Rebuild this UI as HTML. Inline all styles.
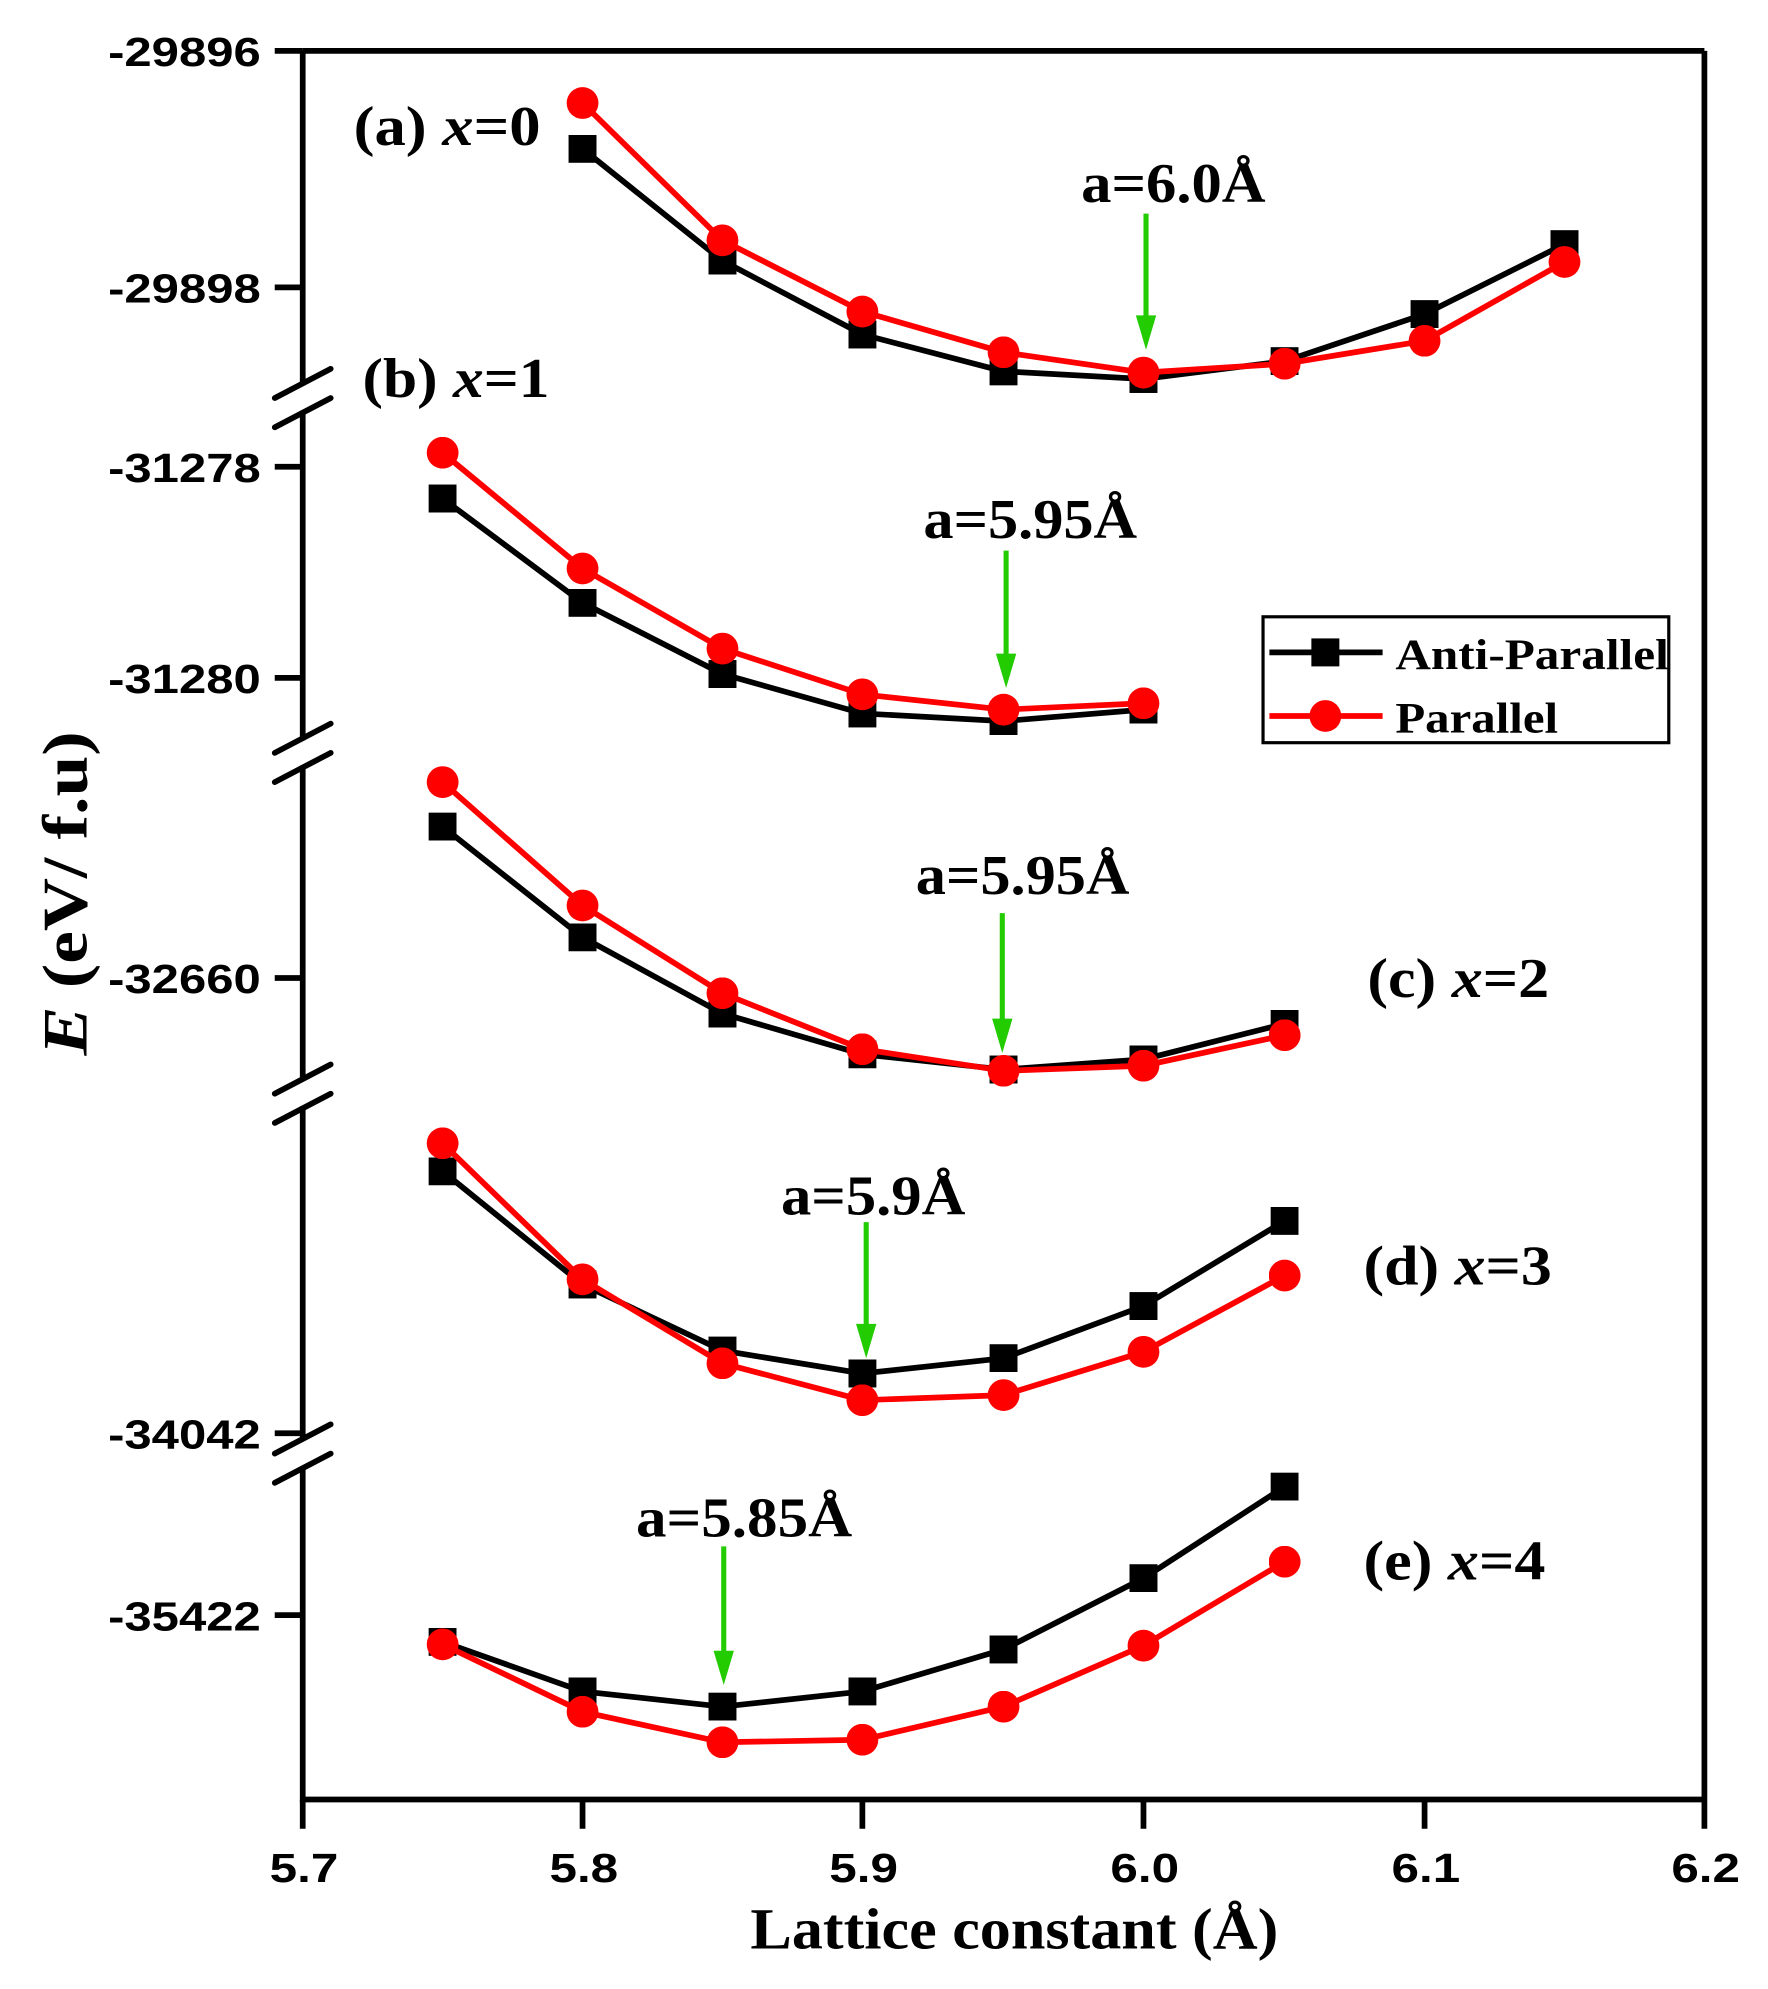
<!DOCTYPE html>
<html><head><meta charset="utf-8"><style>
html,body{margin:0;padding:0;background:#fff;}
svg{display:block;}
.t{font-family:"Liberation Sans",sans-serif;font-weight:bold;font-size:32px;}
.s{font-family:"Liberation Serif",serif;font-weight:bold;font-size:44px;}
</style></head><body>
<svg width="1768" height="1989" viewBox="0 0 1390 1564" preserveAspectRatio="none" xmlns="http://www.w3.org/2000/svg">
<defs>
<marker id="sq" viewBox="0 0 22 22" refX="11" refY="11" markerWidth="22" markerHeight="22" markerUnits="userSpaceOnUse"><rect width="22" height="22" fill="#000"/></marker>
<marker id="ci" viewBox="0 0 25 25" refX="12.5" refY="12.5" markerWidth="25" markerHeight="25" markerUnits="userSpaceOnUse"><circle cx="12.5" cy="12.5" r="12.5" fill="#f00"/></marker>
</defs>
<g stroke="#000" stroke-width="4.5" fill="none">
<line x1="238" y1="40" x2="1340" y2="40"/>
<line x1="1340" y1="40" x2="1340" y2="1415"/>
<line x1="236" y1="1415" x2="1342" y2="1415"/>
<polyline points="238,40 238,303"/>
<polyline points="238,323 238,582"/>
<polyline points="238,602 238,850"/>
<polyline points="238,870 238,1133"/>
<polyline points="238,1153 238,1417"/>
<g stroke-linecap="round">
<line x1="216" y1="313" x2="260" y2="290"/><line x1="216" y1="336" x2="260" y2="313"/>
<line x1="216" y1="592" x2="260" y2="569"/><line x1="216" y1="615" x2="260" y2="592"/>
<line x1="216" y1="860" x2="260" y2="837"/><line x1="216" y1="883" x2="260" y2="860"/>
<line x1="216" y1="1143" x2="260" y2="1120"/><line x1="216" y1="1166" x2="260" y2="1143"/>
</g>
<g>
<line x1="216" y1="40" x2="238" y2="40"/><line x1="216" y1="226" x2="238" y2="226"/>
<line x1="216" y1="367" x2="238" y2="367"/><line x1="216" y1="533" x2="238" y2="533"/>
<line x1="216" y1="769" x2="238" y2="769"/><line x1="216" y1="1127" x2="238" y2="1127"/>
<line x1="216" y1="1270" x2="238" y2="1270"/>
<line x1="238" y1="1415" x2="238" y2="1438"/><line x1="458" y1="1415" x2="458" y2="1438"/>
<line x1="678" y1="1415" x2="678" y2="1438"/><line x1="899" y1="1415" x2="899" y2="1438"/>
<line x1="1120" y1="1415" x2="1120" y2="1438"/><line x1="1340" y1="1415" x2="1340" y2="1438"/>
</g>
</g>
<g class="t">
<text x="85" y="52" textLength="120" lengthAdjust="spacingAndGlyphs">-29896</text>
<text x="85" y="238" textLength="120" lengthAdjust="spacingAndGlyphs">-29898</text>
<text x="85" y="379" textLength="120" lengthAdjust="spacingAndGlyphs">-31278</text>
<text x="85" y="545" textLength="120" lengthAdjust="spacingAndGlyphs">-31280</text>
<text x="85" y="781" textLength="120" lengthAdjust="spacingAndGlyphs">-32660</text>
<text x="85" y="1139" textLength="120" lengthAdjust="spacingAndGlyphs">-34042</text>
<text x="85" y="1282" textLength="120" lengthAdjust="spacingAndGlyphs">-35422</text>
</g>
<g class="t">
<text x="212" y="1480" textLength="54" lengthAdjust="spacingAndGlyphs">5.7</text>
<text x="432" y="1480" textLength="54" lengthAdjust="spacingAndGlyphs">5.8</text>
<text x="652" y="1480" textLength="54" lengthAdjust="spacingAndGlyphs">5.9</text>
<text x="873" y="1480" textLength="54" lengthAdjust="spacingAndGlyphs">6.0</text>
<text x="1094" y="1480" textLength="54" lengthAdjust="spacingAndGlyphs">6.1</text>
<text x="1314" y="1480" textLength="54" lengthAdjust="spacingAndGlyphs">6.2</text>
</g>
<text class="s" x="590" y="1532" textLength="415" lengthAdjust="spacingAndGlyphs" style="font-size:46px">Lattice constant (Å)</text>
<text class="s" transform="translate(68,830) rotate(-90)" textLength="255" lengthAdjust="spacingAndGlyphs" style="font-size:50px"><tspan font-style="italic">E</tspan> (eV/ f.u)</text>
<g fill="none" stroke-width="4.5">
<g stroke="#000" marker-start="url(#sq)" marker-mid="url(#sq)" marker-end="url(#sq)">
<polyline points="458,117 568,205 678,263 789,292 899,298 1010,284 1120,247 1230,192"/>
<polyline points="348,392 458,474 568,530 678,561 789,567 899,558"/>
<polyline points="348,650 458,737 568,797 678,829 789,841 899,833 1010,805"/>
<polyline points="348,921 458,1010 568,1062 678,1080 789,1068 899,1027 1010,960"/>
<polyline points="348,1291 458,1330 568,1342 678,1330 789,1297 899,1241 1010,1169"/>
</g>
<g stroke="#f00" marker-start="url(#ci)" marker-mid="url(#ci)" marker-end="url(#ci)">
<polyline points="458,81 568,189 678,245 789,277 899,293 1010,286 1120,268 1230,206"/>
<polyline points="348,356 458,447 568,510 678,546 789,558 899,553"/>
<polyline points="348,615 458,712 568,781 678,825 789,842 899,838 1010,814"/>
<polyline points="348,899 458,1006 568,1072 678,1101 789,1097 899,1063 1010,1003"/>
<polyline points="348,1293 458,1346 568,1370 678,1368 789,1342 899,1294 1010,1228"/>
</g>
</g>
<g stroke="#22cc00" stroke-width="4">
<line x1="901" y1="168" x2="901" y2="255"/>
<line x1="791" y1="433" x2="791" y2="521"/>
<line x1="788" y1="718" x2="788" y2="808"/>
<line x1="681" y1="961" x2="681" y2="1048"/>
<line x1="569" y1="1216" x2="569" y2="1305"/>
</g>
<g fill="#22cc00">
<path d="M893,248 L909,248 L901,275 Z"/>
<path d="M783,514 L799,514 L791,541 Z"/>
<path d="M780,801 L796,801 L788,828 Z"/>
<path d="M673,1041 L689,1041 L681,1068 Z"/>
<path d="M561,1298 L577,1298 L569,1325 Z"/>
</g>
<g class="s">
<text x="850" y="159" textLength="145" lengthAdjust="spacingAndGlyphs">a=6.0Å</text>
<text x="726" y="423" textLength="168" lengthAdjust="spacingAndGlyphs">a=5.95Å</text>
<text x="720" y="703" textLength="168" lengthAdjust="spacingAndGlyphs">a=5.95Å</text>
<text x="614" y="955" textLength="145" lengthAdjust="spacingAndGlyphs">a=5.9Å</text>
<text x="500" y="1208" textLength="170" lengthAdjust="spacingAndGlyphs">a=5.85Å</text>
<text x="278" y="114" textLength="147" lengthAdjust="spacingAndGlyphs">(a) <tspan font-style="italic">x</tspan>=0</text>
<text x="285" y="312" textLength="147" lengthAdjust="spacingAndGlyphs">(b) <tspan font-style="italic">x</tspan>=1</text>
<text x="1075" y="784" textLength="143" lengthAdjust="spacingAndGlyphs">(c) <tspan font-style="italic">x</tspan>=2</text>
<text x="1072" y="1010" textLength="148" lengthAdjust="spacingAndGlyphs">(d) <tspan font-style="italic">x</tspan>=3</text>
<text x="1072" y="1242" textLength="143" lengthAdjust="spacingAndGlyphs">(e) <tspan font-style="italic">x</tspan>=4</text>
</g>
<rect x="993" y="485" width="319" height="99" fill="#fff" stroke="#000" stroke-width="2.5"/>
<line x1="998" y1="513" x2="1087" y2="513" stroke="#000" stroke-width="4.5"/>
<rect x="1031" y="502" width="22" height="22" fill="#000"/>
<line x1="998" y1="563" x2="1087" y2="563" stroke="#f00" stroke-width="4.5"/>
<circle cx="1042" cy="563" r="12.5" fill="#f00"/>
<g class="s" style="font-size:34px">
<text x="1097" y="526" textLength="215" lengthAdjust="spacingAndGlyphs">Anti-Parallel</text>
<text x="1097" y="576" textLength="128" lengthAdjust="spacingAndGlyphs">Parallel</text>
</g>
</svg>
</body></html>
